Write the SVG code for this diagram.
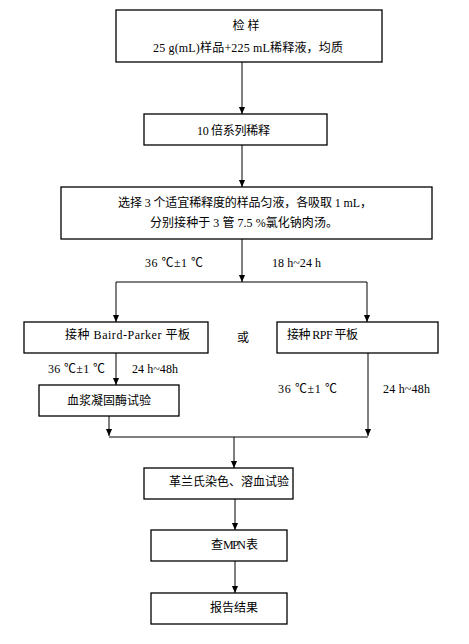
<svg xmlns="http://www.w3.org/2000/svg" width="469" height="644" viewBox="0 0 469 644">
<style>
.box{fill:#fff;stroke:#000;stroke-width:1.3}
.ln{fill:none;stroke:#000;stroke-width:1}
text{font-family:"Liberation Serif","Noto Sans CJK SC",serif;font-size:12px;fill:#000}
.c{text-anchor:middle}
</style>
<defs>
<marker id="ah" markerWidth="7" markerHeight="8" refX="8" refY="3.5" orient="auto" markerUnits="userSpaceOnUse" viewBox="0 0 8 7">
<path d="M0,0 L8,3.5 L0,7 z" fill="#000"/>
</marker>
</defs>
<rect width="469" height="644" fill="#fff"/>
<g id="connectors">
<line class="ln" x1="242" y1="62" x2="242" y2="114" marker-end="url(#ah)"/>
<line class="ln" x1="242" y1="145" x2="242" y2="187" marker-end="url(#ah)"/>
<line class="ln" x1="242" y1="239" x2="242" y2="282" marker-end="url(#ah)"/>
<line class="ln" x1="116" y1="282" x2="367" y2="282"/>
<line class="ln" x1="116" y1="282" x2="116" y2="322" marker-end="url(#ah)"/>
<line class="ln" x1="367" y1="282" x2="367" y2="322" marker-end="url(#ah)"/>
<line class="ln" x1="116" y1="353" x2="116" y2="385" marker-end="url(#ah)"/>
<line class="ln" x1="109" y1="416" x2="109" y2="436" marker-end="url(#ah)"/>
<line class="ln" x1="368" y1="353" x2="368" y2="436" marker-end="url(#ah)"/>
<line class="ln" x1="109" y1="437" x2="368" y2="437"/>
<line class="ln" x1="234" y1="437" x2="234" y2="468" marker-end="url(#ah)"/>
<line class="ln" x1="235" y1="499" x2="235" y2="530" marker-end="url(#ah)"/>
<line class="ln" x1="235" y1="561" x2="235" y2="593" marker-end="url(#ah)"/>
<text x="145" y="267" textLength="58">36 ℃±1 ℃</text>
<text x="272" y="267" textLength="49">18 h~24 h</text>
<text x="48" y="373" textLength="57">36 ℃±1 ℃</text>
<text x="132" y="373" textLength="46">24 h~48h</text>
<text x="278" y="393" textLength="59">36 ℃±1 ℃</text>
<text x="383" y="393" textLength="47">24 h~48h</text>
<text x="243" y="342" class="c">或</text>
</g>
<g id="n1">
<rect class="box" x="116" y="10" width="266" height="52"/>
<text x="246" y="30" class="c">检 样</text>
<text x="153" y="52" textLength="190">25 g(mL)样品+225 mL稀释液，均质</text>
</g>
<g id="n2">
<rect class="box" x="144" y="114" width="183" height="31"/>
<text x="197" y="135" textLength="73">10 倍系列稀释</text>
</g>
<g id="n3">
<rect class="box" x="61" y="187" width="371" height="52"/>
<text x="118" y="207" textLength="254">选择 3 个适宜稀释度的样品匀液，各吸取 1 mL，</text>
<text x="150" y="227" textLength="188">分别接种于 3 管 7.5 %氯化钠肉汤。</text>
</g>
<g id="n4">
<rect class="box" x="24" y="322" width="184" height="31"/>
<text x="65" y="339" textLength="125">接种 Baird-Parker 平板</text>
</g>
<g id="n5">
<rect class="box" x="277" y="322" width="161" height="31"/>
<text x="287" y="339" textLength="71">接种 RPF 平板</text>
</g>
<g id="n6">
<rect class="box" x="39" y="385" width="140" height="31"/>
<text x="109" y="405" class="c">血浆凝固酶试验</text>
</g>
<g id="n7">
<rect class="box" x="144" y="468" width="149" height="31"/>
<text x="229" y="486" class="c">革兰氏染色、溶血试验</text>
</g>
<g id="n8">
<rect class="box" x="151" y="530" width="136" height="31"/>
<text x="211" y="549" textLength="47">查 MPN 表</text>
</g>
<g id="n9">
<rect class="box" x="151" y="593" width="136" height="31"/>
<text x="234" y="612" class="c">报告结果</text>
</g>
</svg>
